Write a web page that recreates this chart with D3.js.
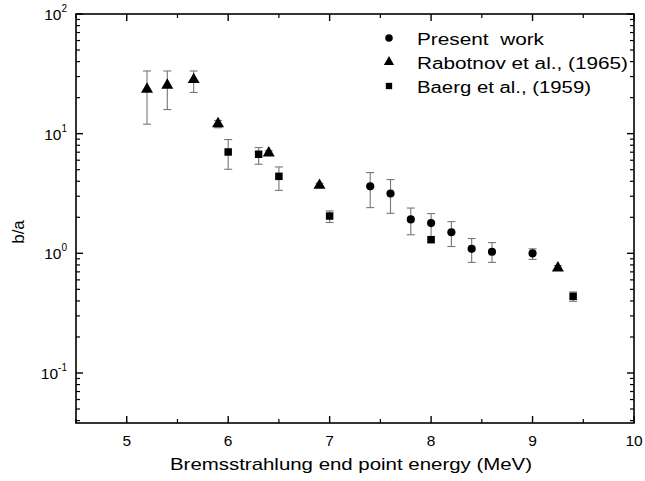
<!DOCTYPE html>
<html><head><meta charset="utf-8">
<script src="https://cdn.jsdelivr.net/npm/d3@7"></script>
<style>body{margin:0;background:#fff}svg{display:block;font-family:"Liberation Sans",Arial,sans-serif}</style>
</head><body><svg id="c" width="645" height="481"></svg>
<script>
// Present work
const presentX = [7.4, 7.6, 7.8, 8.0, 8.2, 8.4, 8.6, 9.0];
const presentY = [3.63, 3.16, 1.92, 1.79, 1.50, 1.09, 1.03, 1.0];
const presentLo = [2.41, 2.16, 1.43, 1.30, 1.14, 0.84, 0.84, 0.89];
const presentHi = [4.73, 4.13, 2.39, 2.15, 1.84, 1.33, 1.23, 1.09];
// Rabotnov et al., (1965)
const rabX = [5.2, 5.4, 5.66, 5.9, 6.4, 6.9, 9.25];
const rabY = [23.5, 25.4, 28.3, 12.1, 6.9, 3.7, 0.754];
const rabLo = [12.0, 15.9, 22.1, 11.2, 6.6, 3.55, 0.72];
const rabHi = [33.4, 33.4, 33.4, 12.9, 7.2, 3.85, 0.79];
// Baerg et al., (1959)
const baeX = [6.0, 6.3, 6.5, 7.0, 8.0, 9.4];
const baeY = [7.03, 6.73, 4.40, 2.05, 1.30, 0.437];
const baeLo = [5.04, 5.55, 3.36, 1.81, 1.24, 0.397];
const baeHi = [8.93, 7.65, 5.27, 2.26, 1.37, 0.475];

const legendLabels = ["Present  work", "Rabotnov et al., (1965)", "Baerg et al., (1959)"];
const xTicks = [5, 6, 7, 8, 9, 10];
const yTicks = [0.1, 1, 10, 100];
const yExp = ["-1", "0", "1", "2"];

const svg = d3.select("#c");
const L = 76, R = 634, T = 14, B = 423;
const x = d3.scaleLinear().domain([4.5, 10]).range([L, R]);
const y = d3.scaleLog().domain([0.0382, 100]).range([B, T]);

// frame
svg.append("rect").attr("x", L).attr("y", T).attr("width", R - L).attr("height", B - T)
  .attr("fill", "none").attr("stroke", "#000").attr("stroke-width", 1.6);

// x ticks
const xMinor = d3.range(4.5, 10.01, 0.5).filter(v => Math.abs(v - Math.round(v)) > 0.01);
const gx = svg.append("g");
xTicks.forEach(v => {
  gx.append("line").attr("x1", x(v)).attr("x2", x(v)).attr("y1", B).attr("y2", B - 7).attr("stroke", "#000").attr("stroke-width", 1.4);
  gx.append("line").attr("x1", x(v)).attr("x2", x(v)).attr("y1", T).attr("y2", T + 7).attr("stroke", "#000").attr("stroke-width", 1.4);
  gx.append("text").attr("x", x(v)).attr("y", B + 23).attr("text-anchor", "middle").attr("font-size", 15.5).text(v);
});
xMinor.forEach(v => {
  gx.append("line").attr("x1", x(v)).attr("x2", x(v)).attr("y1", B).attr("y2", B - 4).attr("stroke", "#000").attr("stroke-width", 1.2);
  gx.append("line").attr("x1", x(v)).attr("x2", x(v)).attr("y1", T).attr("y2", T + 4).attr("stroke", "#000").attr("stroke-width", 1.2);
});

// y ticks
const gy = svg.append("g");
yTicks.forEach((v, i) => {
  gy.append("line").attr("x1", L).attr("x2", L + 7).attr("y1", y(v)).attr("y2", y(v)).attr("stroke", "#000").attr("stroke-width", 1.4);
  gy.append("line").attr("x1", R).attr("x2", R - 7).attr("y1", y(v)).attr("y2", y(v)).attr("stroke", "#000").attr("stroke-width", 1.4);
  const t = gy.append("text").attr("x", L - 9).attr("y", y(v) + 6).attr("text-anchor", "end").attr("font-size", 15.5);
  t.append("tspan").text("10");
  t.append("tspan").attr("dy", -8).attr("font-size", 10).text(yExp[i]);
});
const yMinor = [];
[0.01, 0.1, 1, 10].forEach(d => { for (let k = 2; k <= 9; k++) { const v = d * k; if (v >= 0.0382 && v <= 100) yMinor.push(v); } });
yMinor.forEach(v => {
  gy.append("line").attr("x1", L).attr("x2", L + 4).attr("y1", y(v)).attr("y2", y(v)).attr("stroke", "#000").attr("stroke-width", 1.2);
  gy.append("line").attr("x1", R).attr("x2", R - 4).attr("y1", y(v)).attr("y2", y(v)).attr("stroke", "#000").attr("stroke-width", 1.2);
});

// axis titles
svg.append("text").attr("x", (L + R) / 2 - 4).attr("y", 470).attr("text-anchor", "middle")
  .attr("font-size", 17).attr("textLength", 362).attr("lengthAdjust", "spacingAndGlyphs")
  .text("Bremsstrahlung end point energy (MeV)");
svg.append("text").attr("transform", "translate(24,232) rotate(-90)").attr("text-anchor", "middle")
  .attr("font-size", 17).text("b/a");

// error bars
function errBars(xs, ys, lo, hi) {
  const g = svg.append("g").attr("stroke", "#777").attr("stroke-width", 1.1);
  xs.forEach((xv, i) => {
    const cx = x(xv);
    g.append("line").attr("x1", cx).attr("x2", cx).attr("y1", y(lo[i])).attr("y2", y(hi[i]));
    g.append("line").attr("x1", cx - 4).attr("x2", cx + 4).attr("y1", y(lo[i])).attr("y2", y(lo[i]));
    g.append("line").attr("x1", cx - 4).attr("x2", cx + 4).attr("y1", y(hi[i])).attr("y2", y(hi[i]));
  });
}
errBars(presentX, presentY, presentLo, presentHi);
errBars(rabX, rabY, rabLo, rabHi);
errBars(baeX, baeY, baeLo, baeHi);

const circ = d3.symbol().type(d3.symbolCircle).size(52);
const tri = d3.symbol().type(d3.symbolTriangle).size(62);
const sq = d3.symbol().type(d3.symbolSquare).size(56);

svg.append("g").selectAll("path").data(presentX).join("path")
  .attr("transform", (d, i) => `translate(${x(d)},${y(presentY[i])})`).attr("d", circ).attr("fill", "#000");
svg.append("g").selectAll("path").data(rabX).join("path")
  .attr("transform", (d, i) => `translate(${x(d)},${y(rabY[i])})`).attr("d", tri).attr("fill", "#000");
svg.append("g").selectAll("path").data(baeX).join("path")
  .attr("transform", (d, i) => `translate(${x(d)},${y(baeY[i])})`).attr("d", sq).attr("fill", "#000");

// legend
const syms = [d3.symbol().type(d3.symbolCircle).size(45), d3.symbol().type(d3.symbolTriangle).size(45), d3.symbol().type(d3.symbolSquare).size(40)];
const widths = [127, 211, 174];
legendLabels.forEach((lab, i) => {
  const ly = 39 + i * 24;
  svg.append("path").attr("transform", `translate(389,${ly - 1})`).attr("d", syms[i]).attr("fill", "#000");
  svg.append("text").attr("x", 417).attr("y", ly + 6).attr("font-size", 16).style("white-space", "pre")
    .attr("textLength", widths[i]).attr("lengthAdjust", "spacingAndGlyphs").text(lab);
});
</script></body></html>
